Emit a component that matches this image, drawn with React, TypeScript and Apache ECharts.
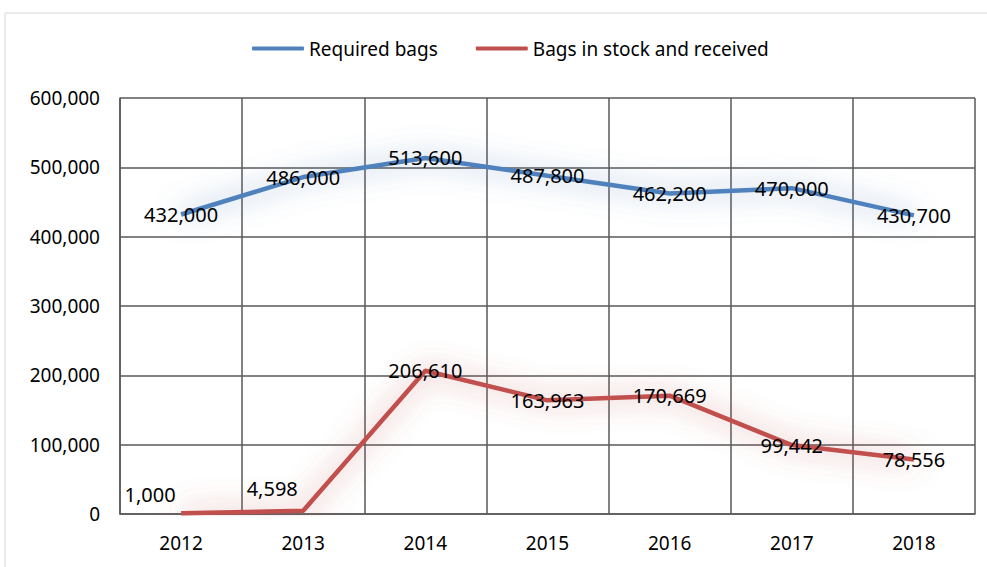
import React, { useEffect, useRef } from "react";
import * as echarts from "echarts";

const years = ["2012", "2013", "2014", "2015", "2016", "2017", "2018"];
const requiredBags = [432000, 486000, 513600, 487800, 462200, 470000, 430700];
const bagsInStock = [1000, 4598, 206610, 163963, 170669, 99442, 78556];
const seriesNames = ["Required bags", "Bags in stock and received"];

const FONT = "Noto Sans";
const fmt = (v: number) => v.toLocaleString("en-US");

export default function App() {
  const ref = useRef<HTMLDivElement>(null);
  useEffect(() => {
    document.body.style.margin = "0";
    const chart = echarts.init(ref.current!, null, { renderer: "svg" });
    const labelBase = {
      show: true,
      position: "inside" as const,
      color: "#000",
      fontFamily: FONT,
      fontSize: 20,
      formatter: (p: any) => fmt(p.value),
    };
    const redOffsets: Record<number, number[]> = { 0: [-31, -19], 1: [-31, -22] };
    chart.setOption({
      animation: false,
      backgroundColor: "#fff",
      textStyle: { fontFamily: FONT },
      graphic: [
        {
          type: "rect",
          shape: { x: 5, y: 13, width: 1000, height: 600 },
          style: { fill: "none", stroke: "#d9d9d9", lineWidth: 1 },
          silent: true,
        },
      ],
      legend: {
        left: 247,
        top: 34,
        icon: "roundRect",
        itemWidth: 52,
        itemHeight: 4,
        itemGap: 38,
        textStyle: { fontFamily: FONT, fontSize: 19, color: "#000" },
        data: seriesNames,
      },
      grid: { left: 120, right: 12, top: 98, bottom: 53, containLabel: false },
      xAxis: {
        type: "category",
        data: years,
        boundaryGap: true,
        axisLine: { show: true, lineStyle: { color: "#595959", width: 1.5 } },
        axisTick: { show: false },
        splitLine: { show: true, interval: 0, lineStyle: { color: "#595959", width: 1.5 } },
        axisLabel: { color: "#000", fontFamily: FONT, fontSize: 19, margin: 19, interval: 0 },
      },
      yAxis: {
        type: "value",
        min: 0,
        max: 600000,
        interval: 100000,
        axisLine: { show: true, lineStyle: { color: "#595959", width: 1.5 } },
        axisTick: { show: false },
        splitLine: { show: true, lineStyle: { color: "#595959", width: 1.5 } },
        axisLabel: { color: "#000", fontFamily: FONT, fontSize: 19, margin: 20, formatter: (v: number) => fmt(v) },
      },
      series: [
        {
          name: seriesNames[0],
          type: "line",
          data: requiredBags,
          color: "#4F81BD",
          symbol: "circle",
          symbolSize: 0,
          showSymbol: true,
          lineStyle: {
            width: 4.5,
            color: "#4F81BD",
            shadowBlur: 28,
            shadowColor: "rgba(79,129,189,0.8)",
          },
          label: labelBase,
        },
        {
          name: seriesNames[1],
          type: "line",
          color: "#C0504D",
          data: bagsInStock.map((v, i) =>
            redOffsets[i] ? { value: v, label: { offset: redOffsets[i] } } : v
          ),
          symbol: "circle",
          symbolSize: 0,
          showSymbol: true,
          lineStyle: {
            width: 4.5,
            color: "#C0504D",
            shadowBlur: 28,
            shadowColor: "rgba(192,80,77,0.8)",
          },
          label: labelBase,
        },
      ],
    });
    return () => chart.dispose();
  }, []);
  return (
    <div
      ref={ref}
      style={{ position: "absolute", left: 0, top: 0, width: 987, height: 567 }}
    />
  );
}
